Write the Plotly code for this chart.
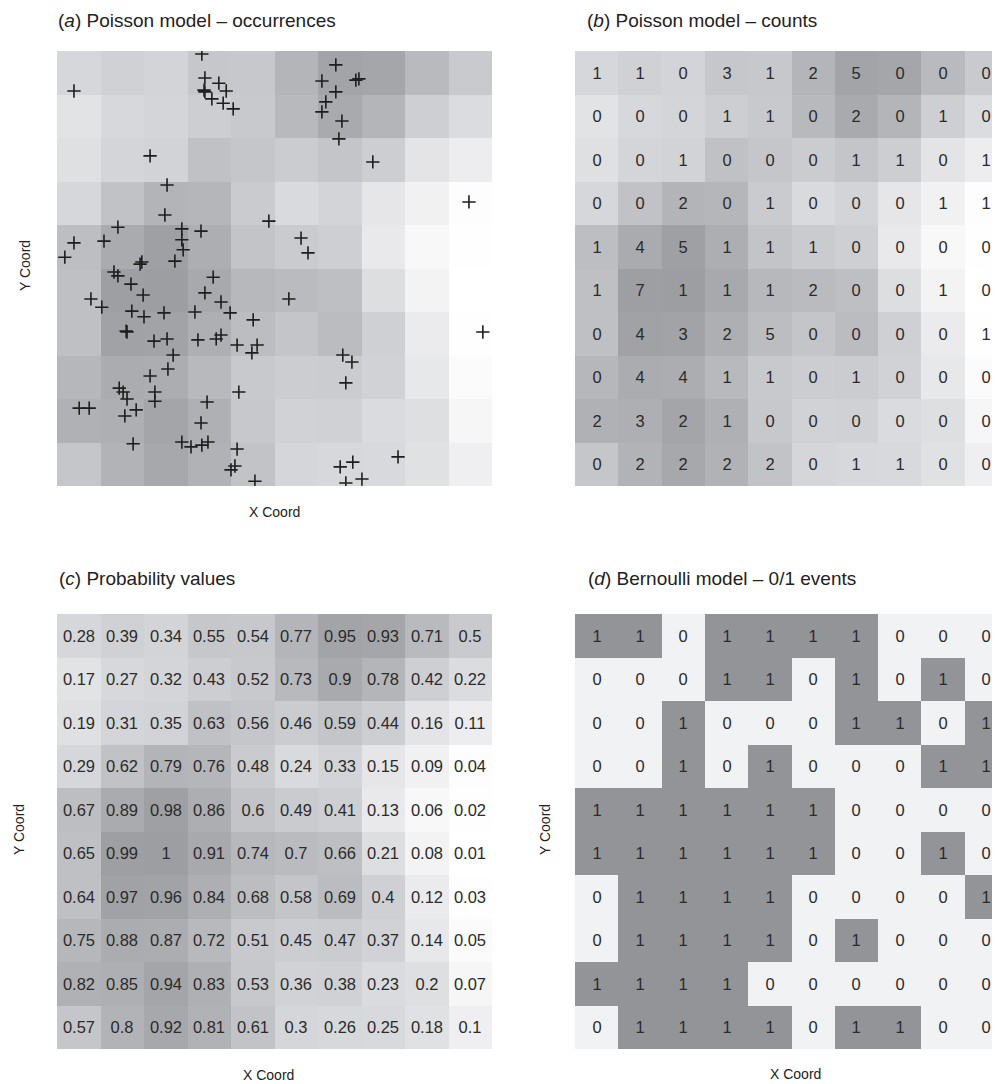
import plotly.graph_objects as go

# ---------------- data ----------------
# probability values (rows from top to bottom, columns left to right)
prob_rows = [
    [0.28, 0.39, 0.34, 0.55, 0.54, 0.77, 0.95, 0.93, 0.71, 0.5],
    [0.17, 0.27, 0.32, 0.43, 0.52, 0.73, 0.9, 0.78, 0.42, 0.22],
    [0.19, 0.31, 0.35, 0.63, 0.56, 0.46, 0.59, 0.44, 0.16, 0.11],
    [0.29, 0.62, 0.79, 0.76, 0.48, 0.24, 0.33, 0.15, 0.09, 0.04],
    [0.67, 0.89, 0.98, 0.86, 0.6, 0.49, 0.41, 0.13, 0.06, 0.02],
    [0.65, 0.99, 1, 0.91, 0.74, 0.7, 0.66, 0.21, 0.08, 0.01],
    [0.64, 0.97, 0.96, 0.84, 0.68, 0.58, 0.69, 0.4, 0.12, 0.03],
    [0.75, 0.88, 0.87, 0.72, 0.51, 0.45, 0.47, 0.37, 0.14, 0.05],
    [0.82, 0.85, 0.94, 0.83, 0.53, 0.36, 0.38, 0.23, 0.2, 0.07],
    [0.57, 0.8, 0.92, 0.81, 0.61, 0.3, 0.26, 0.25, 0.18, 0.1],
]

# Poisson counts per cell
count_rows = [
    [1, 1, 0, 3, 1, 2, 5, 0, 0, 0],
    [0, 0, 0, 1, 1, 0, 2, 0, 1, 0],
    [0, 0, 1, 0, 0, 0, 1, 1, 0, 1],
    [0, 0, 2, 0, 1, 0, 0, 0, 1, 1],
    [1, 4, 5, 1, 1, 1, 0, 0, 0, 0],
    [1, 7, 1, 1, 1, 2, 0, 0, 1, 0],
    [0, 4, 3, 2, 5, 0, 0, 0, 0, 1],
    [0, 4, 4, 1, 1, 0, 1, 0, 0, 0],
    [2, 3, 2, 1, 0, 0, 0, 0, 0, 0],
    [0, 2, 2, 2, 2, 0, 1, 1, 0, 0],
]

# Bernoulli 0/1 events
event_rows = [
    [1, 1, 0, 1, 1, 1, 1, 0, 0, 0],
    [0, 0, 0, 1, 1, 0, 1, 0, 1, 0],
    [0, 0, 1, 0, 0, 0, 1, 1, 0, 1],
    [0, 0, 1, 0, 1, 0, 0, 0, 1, 1],
    [1, 1, 1, 1, 1, 1, 0, 0, 0, 0],
    [1, 1, 1, 1, 1, 1, 0, 0, 1, 0],
    [0, 1, 1, 1, 1, 0, 0, 0, 0, 1],
    [0, 1, 1, 1, 1, 0, 1, 0, 0, 0],
    [1, 1, 1, 1, 0, 0, 0, 0, 0, 0],
    [0, 1, 1, 1, 1, 0, 1, 1, 0, 0],
]

# occurrence locations (grid units, 0-10, y upward)
occ_x = [3.33, 3.40, 3.72, 3.89, 3.38, 3.40, 3.56, 3.82, 4.05, 0.39,
         2.14, 2.53, 2.48, 1.40, 2.87, 3.31, 0.39, 1.08, 2.87, 2.90,
         0.18, 1.95, 1.91, 2.71, 1.31, 1.40, 1.70, 1.98, 3.59, 3.40,
         3.77, 3.98, 0.78, 1.03, 1.72, 2.00, 2.46, 3.17, 4.51, 1.59,
         1.61, 2.23, 2.53, 2.67, 3.24, 3.66, 3.77, 4.14, 4.60, 4.48,
         2.55, 2.14, 1.43, 1.52, 1.61, 2.25, 2.25, 4.18, 3.45, 0.51,
         0.74, 1.82, 1.56, 3.31, 1.75, 2.87, 3.08, 3.33, 3.47, 4.14,
         4.09, 4.00, 4.55, 5.33, 6.57, 6.78, 6.64, 9.79, 7.84, 6.51,
         6.80, 6.64, 7.01, 6.41, 6.09, 6.87, 6.94, 6.41, 6.18, 6.09,
         6.55, 6.48, 7.26, 9.47, 4.87, 5.61, 5.77]
occ_y = [9.93, 9.38, 9.26, 9.08, 9.10, 9.06, 8.90, 8.80, 8.67, 9.08,
         7.59, 6.92, 6.23, 5.95, 5.91, 5.86, 5.59, 5.63, 5.66, 5.43,
         5.26, 5.15, 5.10, 5.17, 4.92, 4.83, 4.64, 4.39, 4.80, 4.44,
         4.23, 3.98, 4.30, 4.11, 4.02, 3.89, 3.98, 4.00, 3.82, 3.56,
         3.54, 3.33, 3.38, 3.01, 3.36, 3.38, 3.47, 3.24, 3.24, 3.06,
         2.69, 2.53, 2.25, 2.16, 2.00, 2.16, 1.95, 2.16, 1.93, 1.79,
         1.79, 1.75, 1.61, 1.45, 0.97, 1.01, 0.90, 0.94, 1.01, 0.85,
         0.46, 0.37, 0.11, 4.30, 3.01, 2.85, 2.37, 3.54, 0.67, 0.44,
         0.55, 0.07, 0.16, 9.68, 9.31, 9.33, 9.36, 9.06, 8.83, 8.60,
         8.39, 7.98, 7.45, 6.53, 6.09, 5.70, 5.36]

panel_titles = ["(<i>a</i>) Poisson model \u2013 occurrences",
                "(<i>b</i>) Poisson model \u2013 counts",
                "(<i>c</i>) Probability values",
                "(<i>d</i>) Bernoulli model \u2013 0/1 events"]

# ---------------- styling ----------------
FONT = "Liberation Sans, Arial, Helvetica, sans-serif"
TXT = "#2b2b2b"
W, H = 1000, 1084
OFF = 8  # page body margin

gray_scale = [
    [0.0, "#ffffff"], [0.04, "#fdfdfd"], [0.08, "#f3f3f4"], [0.12, "#ebebed"],
    [0.18, "#e0e1e3"], [0.25, "#d8d9dc"], [0.35, "#d2d3d6"], [0.5, "#c9cacd"],
    [0.6, "#c3c4c7"], [0.7, "#babbbe"], [0.8, "#b2b3b6"], [0.9, "#a9aaad"],
    [1.0, "#9d9ea2"],
]
binary_scale = [[0.0, "#f1f2f4"], [0.5, "#f1f2f4"], [0.5, "#939498"], [1.0, "#939498"]]

xc = [i + 0.5 for i in range(10)]
yc = [9.5 - i for i in range(10)]

def fmt(v):
    return f"{v:g}"

fig = go.Figure()

# (a)
fig.add_trace(go.Heatmap(x=xc, y=yc, z=prob_rows, zmin=0, zmax=1, colorscale=gray_scale,
                         showscale=False, hoverinfo="skip", xaxis="x", yaxis="y"))
fig.add_trace(go.Scatter(x=occ_x, y=occ_y, mode="markers", xaxis="x", yaxis="y",
                         marker=dict(symbol="cross-thin", size=9.5,
                                     line=dict(color="#1e1e1e", width=1.6)),
                         showlegend=False, hoverinfo="skip"))
# (b)
fig.add_trace(go.Heatmap(x=xc, y=yc, z=prob_rows, zmin=0, zmax=1, colorscale=gray_scale,
                         showscale=False, hoverinfo="skip", xaxis="x2", yaxis="y2",
                         text=[[str(v) for v in r] for r in count_rows],
                         texttemplate="%{text}",
                         textfont=dict(family=FONT, size=16.5, color=TXT)))
# (c)
fig.add_trace(go.Heatmap(x=xc, y=yc, z=prob_rows, zmin=0, zmax=1, colorscale=gray_scale,
                         showscale=False, hoverinfo="skip", xaxis="x3", yaxis="y3",
                         text=[[fmt(v) for v in r] for r in prob_rows],
                         texttemplate="%{text}",
                         textfont=dict(family=FONT, size=16.5, color=TXT)))
# (d)
fig.add_trace(go.Heatmap(x=xc, y=yc, z=event_rows, zmin=0, zmax=1, colorscale=binary_scale,
                         showscale=False, hoverinfo="skip", xaxis="x4", yaxis="y4",
                         text=[[str(v) for v in r] for r in event_rows],
                         texttemplate="%{text}",
                         textfont=dict(family=FONT, size=16.5, color=TXT)))

def px_x(p):
    return (p - OFF) / W

def px_y(p):
    return 1 - (p - OFF) / H

ax = dict(showgrid=False, zeroline=False, showticklabels=False, ticks="",
          showline=False, fixedrange=True)
left = [px_x(57), px_x(57 + 435)]
right = [px_x(575), 1.0]
top = [px_y(486), px_y(51)]
bot = [px_y(1049), px_y(614)]

fig.update_layout(
    width=W, height=H, margin=dict(l=0, r=0, t=0, b=0),
    paper_bgcolor="white", plot_bgcolor="white", showlegend=False,
    font=dict(family=FONT, color=TXT),
    xaxis=dict(ax, domain=left, range=[0, 10]),
    yaxis=dict(ax, domain=top, range=[0, 10]),
    xaxis2=dict(ax, domain=right, range=[0, 10]),
    yaxis2=dict(ax, domain=top, range=[0, 10]),
    xaxis3=dict(ax, domain=left, range=[0, 10]),
    yaxis3=dict(ax, domain=bot, range=[0, 10]),
    xaxis4=dict(ax, domain=right, range=[0, 10]),
    yaxis4=dict(ax, domain=bot, range=[0, 10]),
)

annots = []
# top titles anchored at the very top of the figure so they are not clipped
for t, x in zip(panel_titles[:2], [56, 585]):
    annots.append(dict(text=t, x=px_x(x), y=1.0, xref="paper", yref="paper",
                       xanchor="left", yanchor="top", showarrow=False,
                       font=dict(family=FONT, size=19, color="#222222")))
for t, x in zip(panel_titles[2:], [57, 586]):
    annots.append(dict(text=t, x=px_x(x), y=px_y(578), xref="paper", yref="paper",
                       xanchor="left", yanchor="middle", showarrow=False,
                       font=dict(family=FONT, size=19, color="#222222")))
for (x, y) in [(274, 512), (268, 1075), (795, 1074)]:
    annots.append(dict(text="X Coord", x=px_x(x), y=px_y(y), xref="paper", yref="paper",
                       xanchor="center", yanchor="middle", showarrow=False,
                       font=dict(family=FONT, size=14, color="#222222")))
for (x, y) in [(25, 266), (19, 830), (545, 830)]:
    annots.append(dict(text="Y Coord", x=px_x(x), y=px_y(y), xref="paper", yref="paper",
                       xanchor="center", yanchor="middle", showarrow=False, textangle=-90,
                       font=dict(family=FONT, size=14, color="#222222")))
fig.update_layout(annotations=annots)

fig.write_html("out.html")
